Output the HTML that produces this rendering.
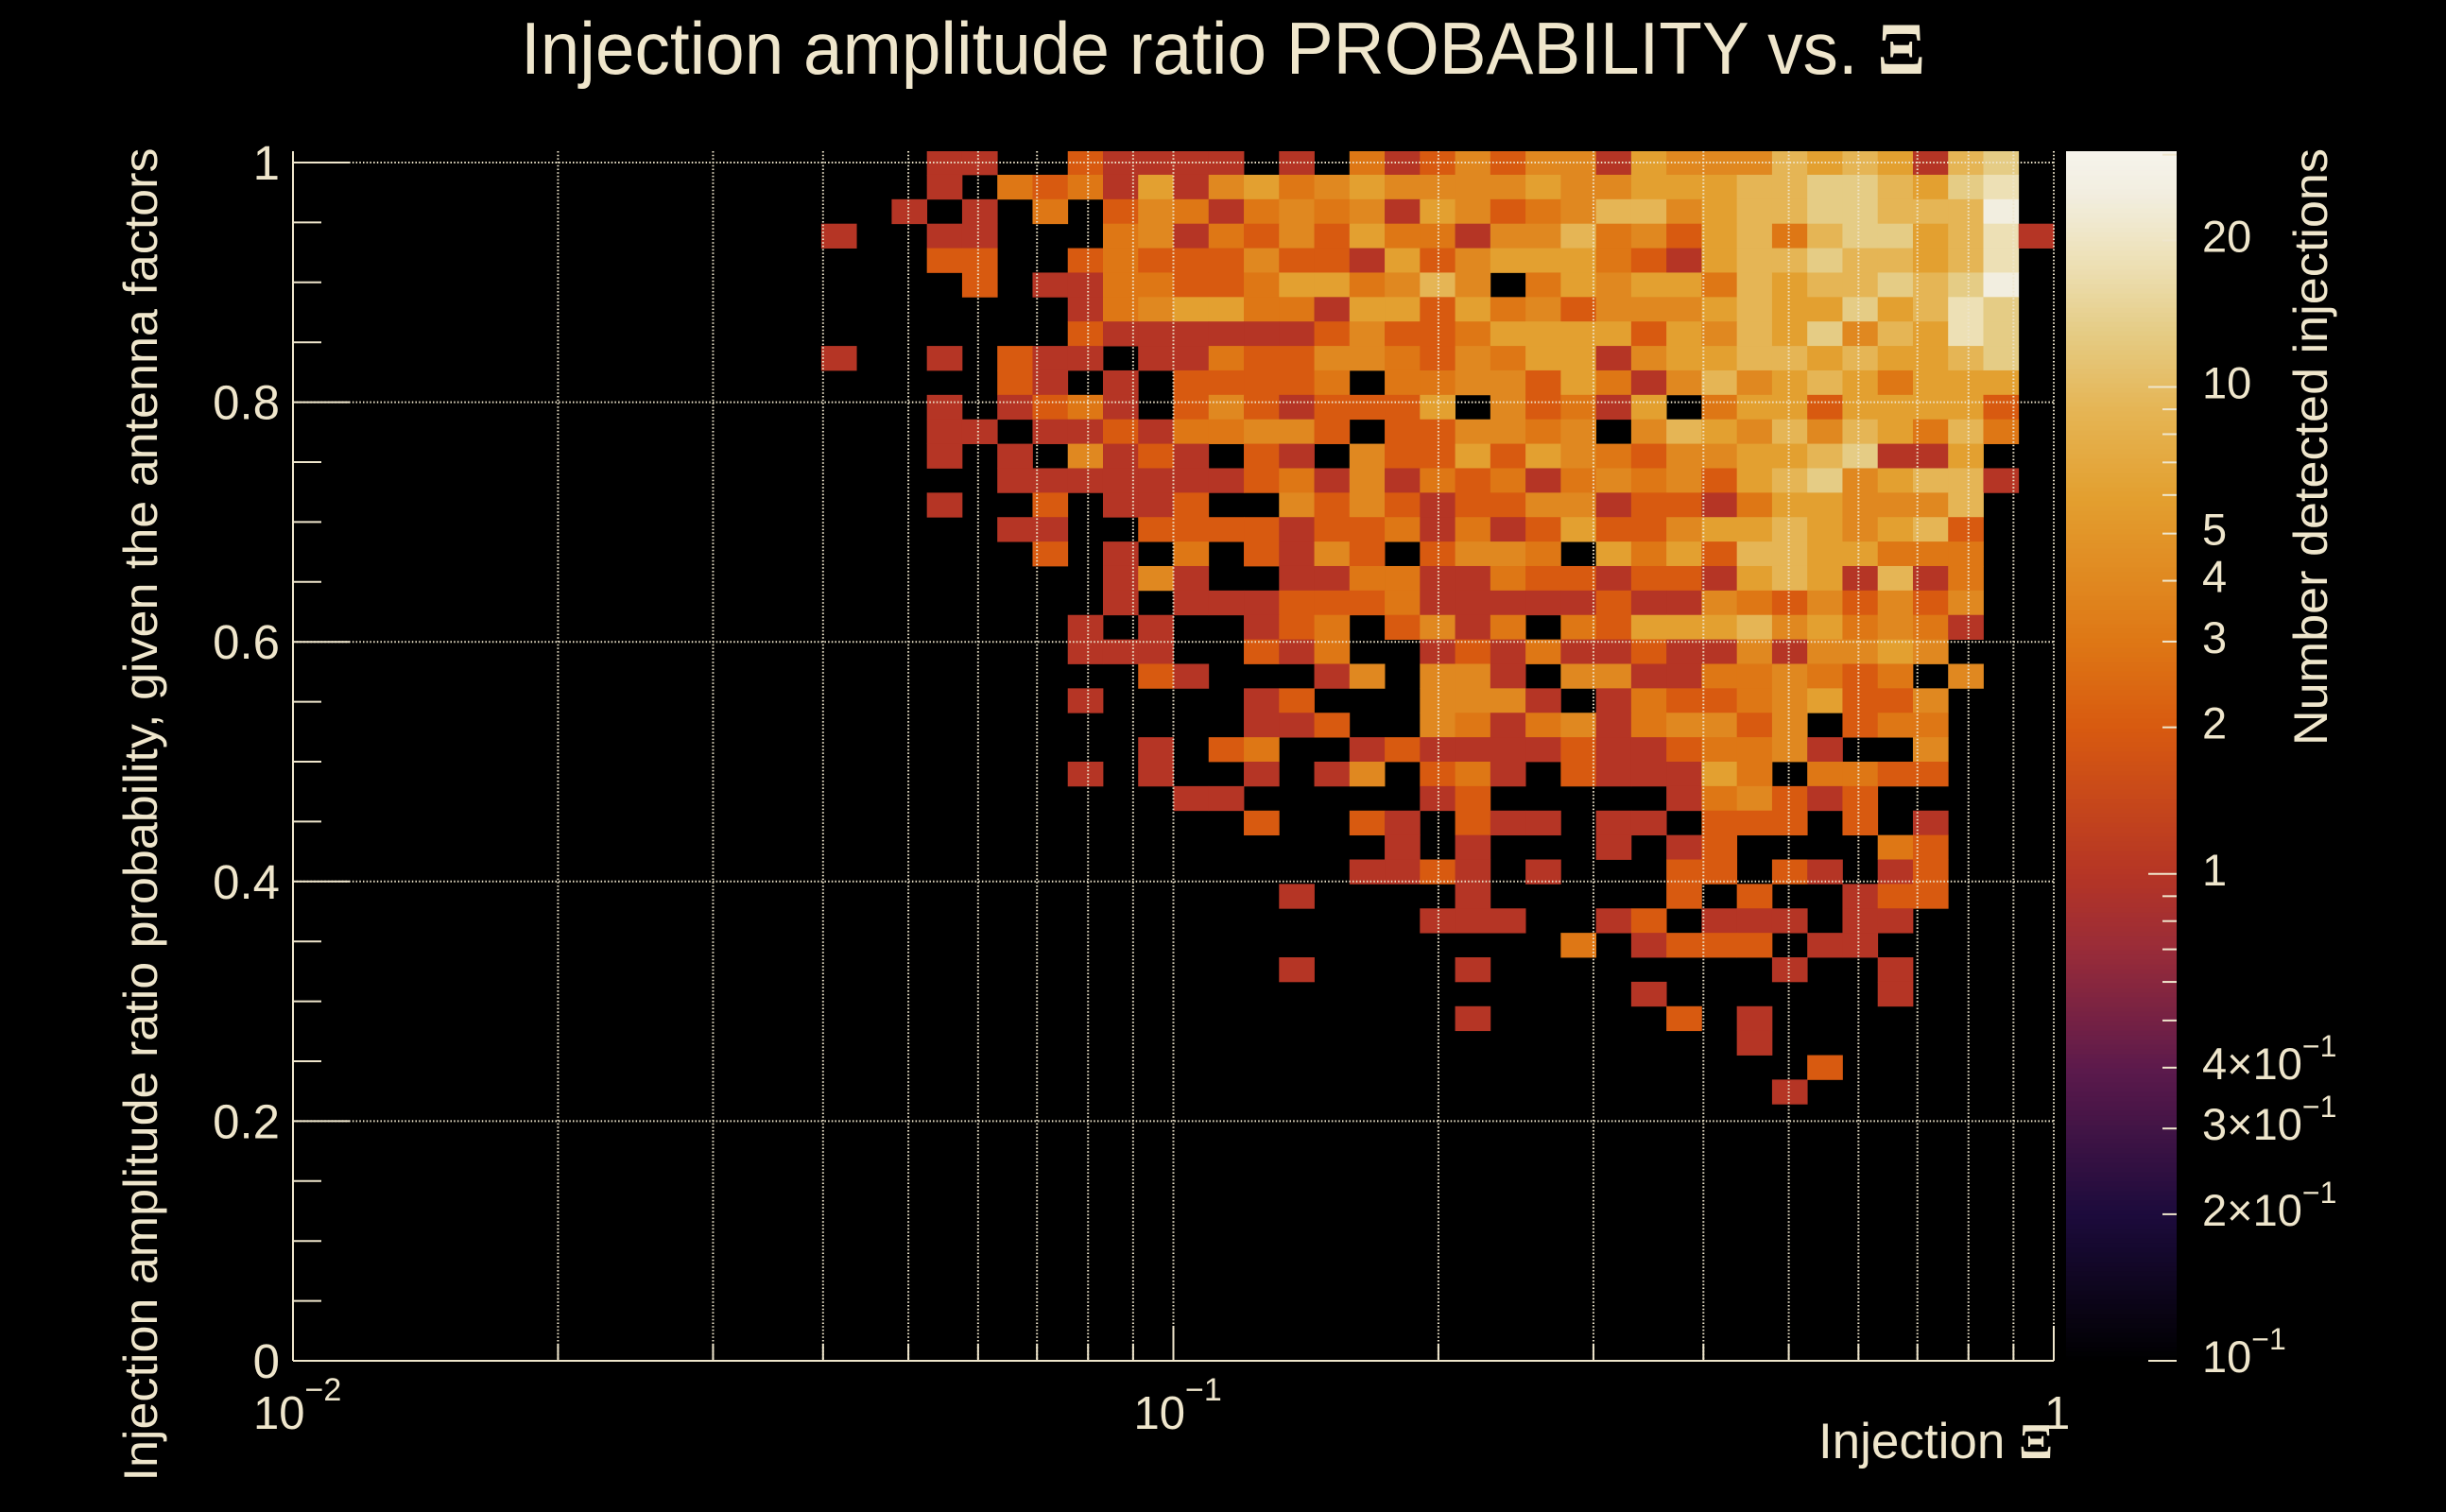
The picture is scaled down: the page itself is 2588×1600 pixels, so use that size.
<!DOCTYPE html>
<html><head><meta charset="utf-8"><title>Injection amplitude ratio PROBABILITY vs. Xi</title>
<style>html,body{margin:0;padding:0;background:#000;}svg{display:block;}</style>
</head><body>
<svg id="chart" xmlns="http://www.w3.org/2000/svg" width="2588" height="1600" viewBox="0 0 2588 1600" style="background:#000;font-family:'Liberation Sans',sans-serif">
<g id="cells"></g>
<g id="grid"></g>
<g id="axes"></g>
<g id="cbar"></g>
<text x="551" y="78" font-size="78" fill="#efe6cc" textLength="1486" lengthAdjust="spacingAndGlyphs">Injection amplitude ratio PROBABILITY vs.  <tspan font-family="'Liberation Serif',serif" font-weight="bold">Ξ</tspan></text>
<text transform="translate(166,862) rotate(-90)" text-anchor="middle" font-size="50" fill="#efe6cc" textLength="1411" lengthAdjust="spacingAndGlyphs">Injection amplitude ratio probability, given the antenna factors</text>
<text x="2172" y="1543" text-anchor="end" font-size="53" fill="#efe6cc">Injection <tspan font-family="'Liberation Serif',serif" font-weight="bold">Ξ</tspan></text>
<text transform="translate(2462,157) rotate(-90)" text-anchor="end" font-size="50" fill="#efe6cc" textLength="632" lengthAdjust="spacingAndGlyphs">Number detected injections</text>
</svg>
<script>
// ---- data ----
const countLevels = [0,1,2,3,4,6,9,13,18,25];
const firstColumn = 15;
// rows from top (y=1) downward; columns 15..49 (log10 x bins of 0.04 from -2)
const rowCodes = [
"...11..21111.1.31"+"24244154446565167.",
"...1.323151453454"+"44454455566776578.",
"..1.1.3.243134341"+"54234664566776669.",
"1..11...341324253"+"314463425636775681",
"...22..2322242215"+"24555321566766568.",
"....2.11332235534"+"64.35455365667679.",
".......1345533155"+"25342444565575687.",
".......2111111242"+"23555525465746587.",
"1..1.211.11322443"+"24355145566565567.",
".....21.1.22223.3"+"34425314645653555.",
"...1.1231.2421222"+"5.42315.355255552.",
"...11.112133442.2"+"24434.46546465363.",
"...1.1.4121.21.42"+"2525432445567115..",
".....111111123141"+"32313434256745661.",
"...1..2.112..4242"+"1224412213554446..",
".....11..22221223"+"1312522455654562..",
"......2.1.3.2142."+"2443.53526655333..",
"........141..1133"+"1132212215651613..",
"........1.1112223"+"1111121143242424..",
".......1.1..123.2"+"413.325556453431..",
".......111..213.."+"121311211414454...",
".........21...14."+"441.4411334323.4..",
".......1....12..."+"4441.1322345224...",
"............112.."+"43134134424.233...",
".........1.23..12"+"111121123341..4...",
".......1.1..1.14."+"231.211153.3322...",
"..........11....."+"12.....134212.....",
"............2..21"+".211.11.222.2.1...",
"................1"+".1...1.12....32...",
"...............11"+"21.1...22.21.12...",
".............1..."+".1.....2.2..122...",
"................."+"111..12.111.11....",
"................."+"....3.1222.11.....",
".............1..."+".1........1..1....",
"................."+"......1......1....",
"................."+".1.....2.1........",
"................."+".........1........",
"................."+"...........2......",
"................."+"..........1......."
];
const yTickLabels = ["0","0.2","0.4","0.6","0.8","1"];
const yTickValues = [0,0.2,0.4,0.6,0.8,1];
const xDecades = [-2,-1,0];
const xDecadeLabels = [["10","−2"],["10","−1"],["1",""]];
const cbarTickValues = [20,10,5,4,3,2,1,0.4,0.3,0.2,0.1];
const cbarTickLabels = [["20",""],["10",""],["5",""],["4",""],["3",""],["2",""],["1",""],["4×10","−1"],["3×10","−1"],["2×10","−1"],["10","−1"]];
const nBinsX = 50, nBinsY = 50;
const zMin = 0.1, zMax = 30.5;

// ---- scales ----
const X0=310, X1=2173, Y0=1440, YTOP=160, PXU=1268;
function xScale(v){ return X0 + (Math.log10(v)+2)/2*(X1-X0); }
function yScale(v){ return Y0 - v*PXU; }
function cScale(v){ return Y0 - (Math.log10(v)-Math.log10(zMin))/(Math.log10(zMax)-Math.log10(zMin))*(Y0-YTOP); }
const stops=[[-1,'#000000'],[-0.7,'#1c0b3c'],[-0.4,'#5c1a4c'],[-0.15,'#9a2c38'],[0,'#b53525'],[0.301,'#d85a10'],[0.477,'#de7715'],[0.602,'#e08820'],[0.778,'#e3a030'],[0.954,'#e5b555'],[1.114,'#e5cc85'],[1.255,'#ede0b5'],[1.398,'#f2eee0'],[1.49,'#f6f4ec']];
function hex(c){return [parseInt(c.slice(1,3),16),parseInt(c.slice(3,5),16),parseInt(c.slice(5,7),16)];}
function colorOf(v){
  const l=Math.max(-1,Math.min(1.49,Math.log10(v)));
  for(let i=0;i<stops.length-1;i++){
    if(l<=stops[i+1][0]){
      const t=(l-stops[i][0])/(stops[i+1][0]-stops[i][0]);
      const a=hex(stops[i][1]),b=hex(stops[i+1][1]);
      return 'rgb('+a.map((x,k)=>Math.round(x+(b[k]-x)*t)).join(',')+')';
    }
  }
  return stops[stops.length-1][1];
}
const counts = rowCodes.map(s=>s.split('').map(ch=>ch==='.'?0:countLevels[+ch]));

const NS='http://www.w3.org/2000/svg';
function mk(tag,attrs,parent){const e=document.createElementNS(NS,tag);for(const k in attrs)e.setAttribute(k,attrs[k]);parent.appendChild(e);return e;}
const TXT='#efe6cc';

// ---- cells ----
const cells=document.getElementById('cells');
counts.forEach((row,r)=>{
  const yc=1-r/(nBinsY-1), hw=0.5/(nBinsY-1);
  row.forEach((v,i)=>{
    if(!v) return;
    const c=firstColumn+i;
    const xa=xScale(Math.pow(10,-2+2*c/nBinsX)), xb=xScale(Math.pow(10,-2+2*(c+1)/nBinsX));
    const ya=Math.max(YTOP,yScale(yc+hw)), yb=yScale(yc-hw);
    const el=mk('rect',{x:xa.toFixed(2),y:ya.toFixed(2),width:(xb-xa+0.4).toFixed(2),height:(yb-ya+0.4).toFixed(2),fill:colorOf(v)},cells);
    
    
  });
});

// ---- grid ----
const grid=document.getElementById('grid');
const gs={stroke:TXT,'stroke-width':2,'stroke-dasharray':'1.5 2.2'};
xDecades.forEach(d=>{
  for(let m=1;m<=9;m++){
    const v=m*Math.pow(10,d); if(v>1.0001||v<0.00999) continue;
    const x=xScale(v);
    const g=mk('line',Object.assign({x1:x,x2:x,y1:YTOP,y2:Y0},gs),grid);
    
    
  }
});
yTickValues.forEach(v=>{
  const y=yScale(v);
  const g=mk('line',Object.assign({x1:X0,x2:X1,y1:y,y2:y},gs),grid);
  
  
});

// ---- axes ----
const axes=document.getElementById('axes');
const ax=mk('line',{x1:X0,x2:X1,y1:Y0,y2:Y0,stroke:TXT,'stroke-width':2},axes);


const ay=mk('line',{x1:X0,x2:X0,y1:YTOP,y2:Y0,stroke:TXT,'stroke-width':2},axes);


for(let k=0;k<=20;k++){
  const v=k*0.05, y=yScale(v), major=(k%4===0);
  const t=mk('line',{x1:X0,x2:X0+(major?60:30),y1:y,y2:y,stroke:TXT,'stroke-width':2},axes);
  
  
}
yTickValues.forEach((v,i)=>{
  const t=mk('text',{x:296,y:yScale(v)+18,'text-anchor':'end','font-size':51,fill:TXT},axes);
  t.textContent=yTickLabels[i];
  
  
});
xDecades.forEach((d,i)=>{
  for(let m=1;m<=9;m++){
    const v=m*Math.pow(10,d); if(v>1.0001) continue;
    const x=xScale(v);
    const t=mk('line',{x1:x,x2:x,y1:Y0,y2:Y0-(m===1?37:18),stroke:TXT,'stroke-width':2},axes);
    
    
  }
  const lab=xDecadeLabels[i];
  const x=xScale(Math.pow(10,d));
  const t=mk('text',{x:lab[1]?x-42:x-10,y:1512,'font-size':49,fill:TXT},axes);
  t.textContent=lab[0];
  if(lab[1]){const s=mk('tspan',{dy:-30,'font-size':34},t);s.textContent=lab[1];}
  
  
});

// ---- color bar ----
const cbar=document.getElementById('cbar');
const CB0=2186, CB1=2303, NSTEP=256;
for(let i=0;i<NSTEP;i++){
  const l0=Math.log10(zMin)+(Math.log10(zMax)-Math.log10(zMin))*i/NSTEP;
  const l1=Math.log10(zMin)+(Math.log10(zMax)-Math.log10(zMin))*(i+1)/NSTEP;
  const ya=cScale(Math.pow(10,l1)), yb=cScale(Math.pow(10,l0));
  const r=mk('rect',{x:CB0,y:ya.toFixed(2),width:CB1-CB0,height:(yb-ya+0.6).toFixed(2),fill:colorOf(Math.pow(10,(l0+l1)/2))},cbar);
  
  
}
[0.1,0.2,0.3,0.4,0.5,0.6,0.7,0.8,0.9,1,2,3,4,5,6,7,8,9,10,20,30].forEach(v=>{
  const y=cScale(v), major=(v===0.1||v===1||v===10);
  const t=mk('line',{x1:CB1,x2:CB1-(major?30:15),y1:y,y2:y,stroke:TXT,'stroke-width':2},cbar);
  
  
});
cbarTickValues.forEach((v,i)=>{
  const lab=cbarTickLabels[i];
  const t=mk('text',{x:2330,y:cScale(v)+12,'font-size':47,fill:TXT},cbar);
  t.textContent=lab[0];
  if(lab[1]){const s=mk('tspan',{dy:-24,'font-size':32},t);s.textContent=lab[1];}
  
  
});
</script>
</body></html>
